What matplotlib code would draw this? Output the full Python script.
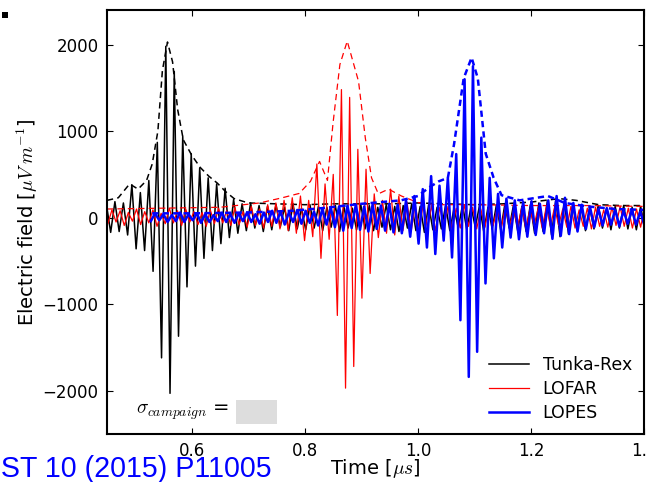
import numpy as np
import matplotlib
matplotlib.use('Agg')
import matplotlib.pyplot as plt
from matplotlib.patches import Rectangle

plt.rcParams['mathtext.fontset'] = 'cm'
plt.rcParams['font.family'] = ['DejaVu Sans']
plt.rcParams['lines.scale_dashes'] = False

# ---------------- data ----------------
# Extrema of each trace, sampled on a regular half-period time grid
tunka_t0, tunka_dt = 0.449, 0.0075
tunka_vals = [150, -170, 185, -160, 170, -200, 380, -360, 290, -380,
              430, -620, 870, -1620, 1980, -2030, 1690, -1370, 940, -800,
              740, -560, 575, -470, 460, -380, 390, -300, 340, -230,
              210, -180, 160, -150, 170, -120, 140, -160, 130, -140,
              150, -110, 120, -150, 160, -130, 110, -140, 150, -120,
              130, -150, 120, -110, 140, -160, 130, -120, 110, -140,
              150, -130, 140, -150, 120, -110, 150, -140, 130, -160,
              140, -120, 160, -150, 130, -170, 150, -140, 120, -130,
              140, -150, 110, -120, 150, -140, 130, -110, 140, -160,
              120, -130, 150, -140, 160, -120, 140, -150, 130, -160,
              150, -180, 170, -160, 190, -200, 210, -220, 180, -190,
              160, -140, 130, -150, 120, -130, 140, -120, 110, -140,
              130, -120, 140, -130, 120, -140, 130, -120]
tunka_env_t = [0.45, 0.47, 0.49, 0.505, 0.52, 0.53, 0.54, 0.548, 0.557, 0.566,
               0.575, 0.585, 0.60, 0.615, 0.63, 0.645, 0.66, 0.675, 0.70, 0.75,
               0.80, 0.85, 0.90, 0.95, 1.00, 1.05, 1.10, 1.15, 1.20, 1.25,
               1.28, 1.32, 1.36, 1.40]
tunka_env = [200, 230, 390, 330, 430, 620, 1000, 1700, 2030, 1800,
             1250, 900, 720, 580, 480, 400, 300, 220, 170, 160,
             150, 160, 160, 160, 170, 160, 150, 160, 180, 220,
             200, 150, 140, 140]

lofar_t0, lofar_dt = 0.44425, 0.00725
lofar_vals = [60, -70, 90, -50, 80, -90, 60, -40, 100, -80,
              70, -60, 90, -100, 50, -70, 110, -60, 80, -90,
              100, -50, 70, -80, 60, -100, 90, -70, 110, -60,
              80, -90, 120, -80, 70, -110, 130, -90, 100, -120,
              150, -100, 170, -130, 200, -150, 230, -180, 250, -265,
              200, -220, 620, -470, 390, -250, 500, -1130, 1480, -1970,
              1390, -1720, 790, -930, 560, -645, 275, -230, 200, -180,
              330, -200, 250, -150, 180, -160, 150, -130, 170, -120,
              140, -150, 120, -100, 130, -140, 110, -120, 150, -100,
              120, -130, 100, -110, 140, -90, 110, -120, 130, -100,
              90, -110, 120, -130, 100, -90, 110, -120, 130, -100,
              120, -90, 100, -110, 130, -120, 90, -100, 110, -130,
              120, -100, 90, -110, 120, -90, 130, -100, 110, -120,
              100, -110, 120, -90]
lofar_env_t = [0.45, 0.55, 0.65, 0.72, 0.76, 0.79, 0.81, 0.826, 0.84, 0.85,
               0.862, 0.875, 0.895, 0.907, 0.918, 0.93, 0.948, 0.971, 1.0, 1.03,
               1.1, 1.2, 1.3, 1.4]
lofar_env = [100, 110, 120, 170, 230, 280, 420, 650, 430, 1100,
             1770, 2040, 1575, 920, 460, 275, 330, 250, 175, 150,
             150, 140, 140, 130]

lopes_t0, lopes_dt = 0.5276, 0.0074
lopes_vals = [-40, 50, -30, 40, -50, 30, -40, 60, -50, 40,
              -30, 50, -60, 40, -50, 30, -40, 60, -50, 40,
              -60, 50, -40, 60, -50, 40, -70, 60, -50, 80,
              -60, 70, -80, 60, -50, 90, -70, 80, -60, 70,
              -90, 100, -80, 120, -110, 130, -150, 140, -120, 150,
              -140, 130, -160, 150, -130, 140, -150, 160, -170, 150,
              -180, 200, -220, 250, -300, 330, -345, 480, -420, 370,
              -265, 460, -460, 735, -1185, 1600, -1840, 1750, -1550, 925,
              -760, 460, -470, 275, -345, 220, -230, 200, -250, 180,
              -220, 190, -200, 160, -180, 200, -245, 250, -210, 230,
              -190, 170, -160, 150, -130, 120, -110, 100, -90, 110,
              -80, 90, -100, 80, -70, 90, -80, 70, -90, 80]
lopes_env_t = [0.53, 0.6, 0.7, 0.78, 0.83, 0.9, 0.97, 1.0, 1.02, 1.037,
               1.053, 1.064, 1.081, 1.095, 1.106, 1.12, 1.134, 1.148, 1.18, 1.23,
               1.26, 1.3, 1.35, 1.4]
lopes_env = [50, 50, 60, 80, 110, 160, 200, 250, 350, 420,
             460, 850, 1610, 1850, 1610, 740, 460, 260, 200, 250,
             170, 130, 100, 90]

labels = ['Tunka-Rex', 'LOFAR', 'LOPES']
colors = ['black', 'red', 'blue']

# ---------------- figure ----------------
W, H = 647, 482
fig = plt.figure(figsize=(W / 100, H / 100), dpi=100)
ax = fig.add_axes([107 / W, (H - 434) / H, (644 - 107) / W, (434 - 10) / H])

series = [
    (tunka_t0, tunka_dt, tunka_vals, tunka_env_t, tunka_env, 1.1),
    (lofar_t0, lofar_dt, lofar_vals, lofar_env_t, lofar_env, 0.9),
    (lopes_t0, lopes_dt, lopes_vals, lopes_env_t, lopes_env, 1.8),
]
for (t0, dt, vals, et, ev, lw), lab, c in zip(series, labels, colors):
    t = t0 + dt * np.arange(len(vals))
    ax.plot(t, vals, color=c, lw=lw, label=lab)
    ax.plot(et, ev, color=c, lw=lw, dashes=(4.5, 3))

ax.set_xlim(0.45, 1.4)
ax.set_ylim(-2500, 2400)
ax.set_xticks([0.6, 0.8, 1.0, 1.2, 1.4])
ax.set_xticklabels(['0.6', '0.8', '1.0', '1.2', '1.4'])
ax.set_yticks([-2000, -1000, 0, 1000, 2000])
ax.tick_params(direction='in', top=True, right=True, length=4, width=0.8,
               labelsize=12, pad=6)
for s in ax.spines.values():
    s.set_linewidth(1.5)

ax.set_xlabel(r'Time [$\mu s$]', fontsize=14, labelpad=-2.5)
ax.set_ylabel(r'Electric field [$\mu V\;m^{-1}$]', fontsize=14, labelpad=2)

leg = ax.legend(loc='lower right', frameon=False, fontsize=12.5,
                handlelength=2.3, borderaxespad=0.3, labelspacing=0.35)

ax.text(0.227, 0.052, r'$\sigma_{campaign}$ =', transform=ax.transAxes,
        ha='right', va='center', fontsize=14)
ax.add_patch(Rectangle((0.240, 0.024), 0.076, 0.057, transform=ax.transAxes,
                       facecolor='#dddddd', edgecolor='none'))

fig.text(-42 / W, (H - 477) / H, 'JINST 10 (2015) P11005', color='blue',
         fontsize=20.6, family='Liberation Sans', ha='left', va='baseline')
fig.patches.append(Rectangle((2 / W, (H - 18) / H), 6 / W, 6 / H,
                             transform=fig.transFigure, facecolor='black',
                             edgecolor='none'))

fig.savefig('out.png', dpi=100)
